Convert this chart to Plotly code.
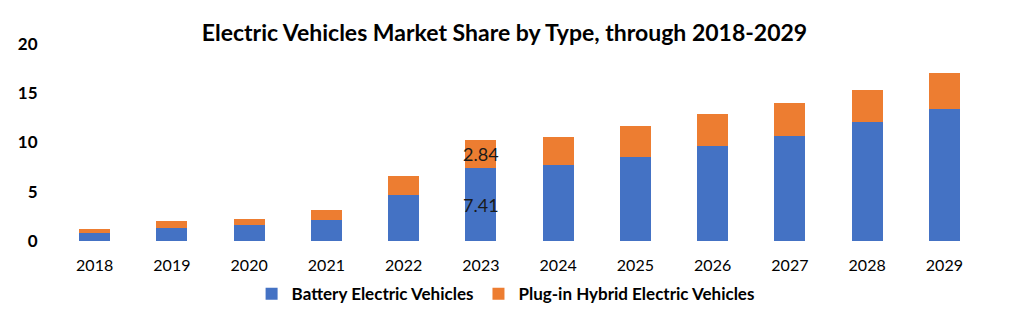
import plotly.graph_objects as go

years = ["2018", "2019", "2020", "2021", "2022", "2023", "2024", "2025", "2026", "2027", "2028", "2029"]
bev = [0.84, 1.35, 1.62, 2.13, 4.70, 7.41, 7.75, 8.56, 9.60, 10.70, 12.05, 13.43]
phev = [0.38, 0.68, 0.61, 1.02, 1.90, 2.84, 2.85, 3.14, 3.32, 3.30, 3.28, 3.63]
labeled_year = "2023"
y_ticks = [0, 5, 10, 15, 20]

FONT = "Lato, Open Sans, sans-serif"

fig = go.Figure()
fig.add_trace(go.Bar(
    x=years, y=bev, name="Battery Electric Vehicles",
    marker=dict(color="#4472C4", line=dict(width=0)),
))
fig.add_trace(go.Bar(
    x=years, y=phev, name="Plug-in Hybrid Electric Vehicles",
    marker=dict(color="#ED7D31", line=dict(width=0)),
))

# value labels on the highlighted year (centered in each segment, not shrunk)
i = years.index(labeled_year)
for yc, val in [(bev[i] / 2, bev[i]), (bev[i] + phev[i] / 2, phev[i])]:
    fig.add_annotation(
        x=i, xref="x", y=yc, yref="y", text=f"{val:.2f}", showarrow=False,
        xanchor="center", yanchor="middle",
        font=dict(family=FONT, size=18, color="#1a1a1a"),
    )

fig.update_layout(
    barmode="stack",
    bargap=0.6,
    width=1009, height=325,
    margin=dict(l=56, r=26, t=44, b=84),
    paper_bgcolor="white", plot_bgcolor="white",
    title=dict(
        text="<b>Electric Vehicles Market Share by Type, through 2018-2029</b>",
        x=0.5, xref="container", xanchor="center",
        y=1 - 33 / 325, yref="container", yanchor="middle",
        font=dict(family=FONT, size=23, color="black"),
    ),
    font=dict(family=FONT, color="black"),
    showlegend=True,
    legend=dict(
        orientation="h", x=0.485, xanchor="center", y=-0.27, yanchor="middle",
        font=dict(family=FONT, size=17, color="black", weight="bold"),
        itemwidth=30, traceorder="normal",
    ),
    xaxis=dict(
        type="category",
        range=[-0.5, len(years) - 0.5],
        showgrid=False, zeroline=False, showline=False,
        ticks="outside", ticklen=10, tickcolor="rgba(0,0,0,0)",
        tickfont=dict(family=FONT, size=16, color="black"),
    ),
    yaxis=dict(
        range=[0, 20], tickvals=y_ticks,
        showgrid=False, zeroline=False, showline=False,
        ticks="outside", ticklen=14, tickcolor="rgba(0,0,0,0)",
        tickfont=dict(family=FONT, size=17, color="black", weight="bold"),
    ),
)

fig.write_html("out.html")
